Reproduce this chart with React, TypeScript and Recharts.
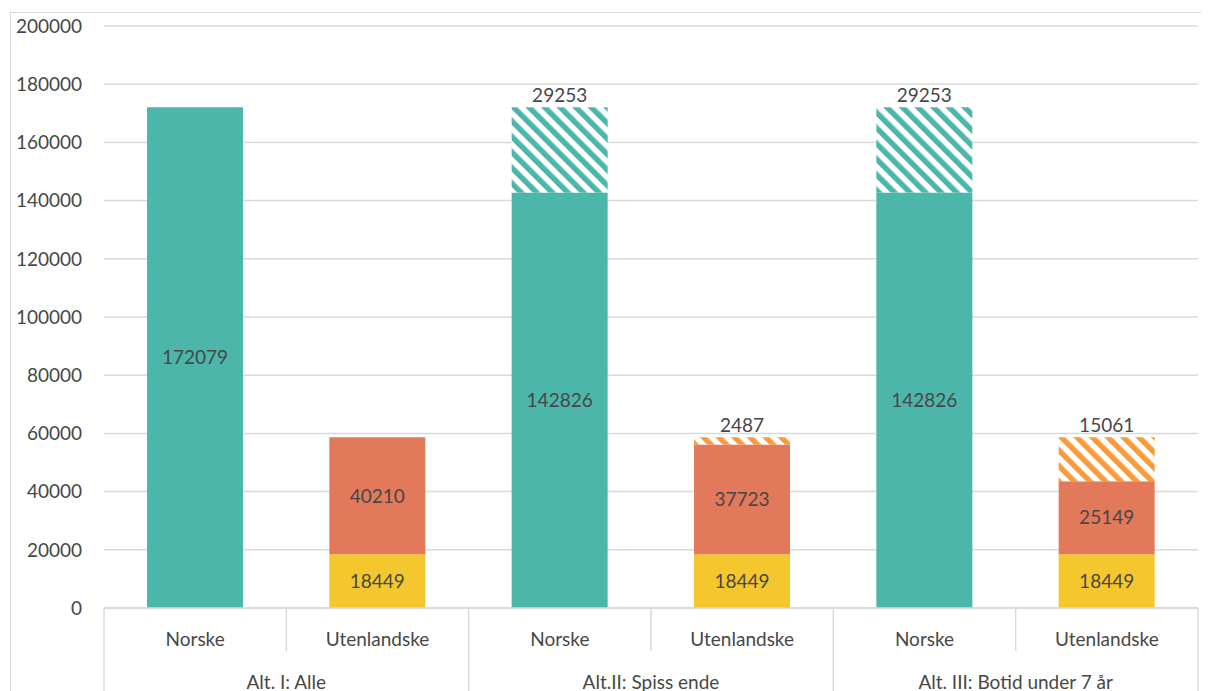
import { BarChart, Bar, XAxis, YAxis, CartesianGrid, LabelList } from "recharts";

// categories and the group each pair belongs to
const categories = ["Norske", "Utenlandske", "Norske", "Utenlandske", "Norske", "Utenlandske"];
const groups = ["Alt. I: Alle", "Alt.II: Spiss ende", "Alt. III: Botid under 7 år"];

// stacked segments per category
const norskeBase = [172079, 0, 142826, 0, 142826, 0];
const norskeExtra = [0, 0, 29253, 0, 29253, 0];
const utenlandskeBase = [0, 18449, 0, 18449, 0, 18449];
const utenlandskeMid = [0, 40210, 0, 37723, 0, 25149];
const utenlandskeExtra = [0, 0, 0, 2487, 0, 15061];

const yTicks = [0, 20000, 40000, 60000, 80000, 100000, 120000, 140000, 160000, 180000, 200000];

const data = categories.map((name, i) => ({
  name,
  norskeBase: norskeBase[i],
  norskeExtra: norskeExtra[i],
  utenlandskeBase: utenlandskeBase[i],
  utenlandskeMid: utenlandskeMid[i],
  utenlandskeExtra: utenlandskeExtra[i],
}));

const TEAL = "#4db6ab";
const ORANGE = "#e2795a";
const YELLOW = "#f4c72e";
const ORANGE_LIGHT = "#f79b3b";
const LINE = "#d9d9d9";
const TEXT = "#474747";
const FONT = "Lato, 'Open Sans', sans-serif";

const CHART_W = 1196;
const CHART_H = 700;
const Y_AXIS_W = 93;
const MARGIN = { top: 13, right: 9, left: 0, bottom: 0 };
const X_AXIS_H = 105;
const BAND = (CHART_W - MARGIN.left - MARGIN.right - Y_AXIS_W) / categories.length;

const hideZero = (v: any) => (v ? v : "");

// two-level category axis: sub labels, group labels and the separator lines
const CategoryTick = (props: any) => {
  const { x, y, payload, index } = props;
  const left = x - BAND / 2;
  const right = x + BAND / 2;
  const startsGroup = index % 2 === 0;
  const isLast = index === categories.length - 1;
  return (
    <g>
      <line x1={left} x2={left} y1={y} y2={startsGroup ? y + X_AXIS_H : y + 43} stroke={LINE} strokeWidth={1.5} />
      {isLast && <line x1={right} x2={right} y1={y} y2={y + X_AXIS_H} stroke={LINE} strokeWidth={1.5} />}
      <text x={x} y={y + 30} textAnchor="middle" dominantBaseline="central" fill={TEXT} fontSize={19} fontFamily={FONT}>
        {payload.value}
      </text>
      {startsGroup && (
        <text x={right} y={y + 73} textAnchor="middle" dominantBaseline="central" fill={TEXT} fontSize={19} fontFamily={FONT}>
          {groups[index / 2]}
        </text>
      )}
    </g>
  );
};

const labelStyle = { fill: TEXT, fontSize: 19, fontFamily: FONT };

export default function App() {
  return (
    <div style={{ padding: "4px 0 0 2px" }}>
      <div style={{ width: CHART_W, height: CHART_H, border: `1px solid ${LINE}` }}>
        <BarChart width={CHART_W} height={CHART_H} data={data} margin={MARGIN} barSize={96}>
          <defs>
            <pattern id="hatchTeal" patternUnits="userSpaceOnUse" width={11} height={11} patternTransform="rotate(-45)">
              <rect width={11} height={11} fill="#fff" />
              <rect width={5.5} height={11} fill={TEAL} />
            </pattern>
            <pattern id="hatchOrange" patternUnits="userSpaceOnUse" width={11} height={11} patternTransform="rotate(-45)">
              <rect width={11} height={11} fill="#fff" />
              <rect width={5.5} height={11} fill={ORANGE_LIGHT} />
            </pattern>
          </defs>
          <CartesianGrid vertical={false} stroke={LINE} strokeWidth={1.5} />
          <XAxis
            dataKey="name"
            height={X_AXIS_H}
            interval={0}
            tickSize={0}
            tickMargin={0}
            tickLine={false}
            axisLine={{ stroke: LINE, strokeWidth: 1.5 }}
            tick={<CategoryTick />}
          />
          <YAxis
            width={Y_AXIS_W}
            domain={[0, 200000]}
            ticks={yTicks}
            interval={0}
            axisLine={false}
            tickLine={false}
            tickSize={0}
            tickMargin={22}
            tick={{ fill: TEXT, fontSize: 19, fontFamily: FONT }}
          />
          <Bar dataKey="utenlandskeBase" stackId="a" fill={YELLOW} isAnimationActive={false}>
            <LabelList dataKey="utenlandskeBase" position="center" formatter={hideZero} style={labelStyle} />
          </Bar>
          <Bar dataKey="utenlandskeMid" stackId="a" fill={ORANGE} isAnimationActive={false}>
            <LabelList dataKey="utenlandskeMid" position="center" formatter={hideZero} style={labelStyle} />
          </Bar>
          <Bar dataKey="utenlandskeExtra" stackId="a" fill="url(#hatchOrange)" isAnimationActive={false}>
            <LabelList dataKey="utenlandskeExtra" position="top" formatter={hideZero} style={labelStyle} />
          </Bar>
          <Bar dataKey="norskeBase" stackId="a" fill={TEAL} isAnimationActive={false}>
            <LabelList dataKey="norskeBase" position="center" formatter={hideZero} style={labelStyle} />
          </Bar>
          <Bar dataKey="norskeExtra" stackId="a" fill="url(#hatchTeal)" isAnimationActive={false}>
            <LabelList dataKey="norskeExtra" position="top" formatter={hideZero} style={labelStyle} />
          </Bar>
        </BarChart>
      </div>
    </div>
  );
}
